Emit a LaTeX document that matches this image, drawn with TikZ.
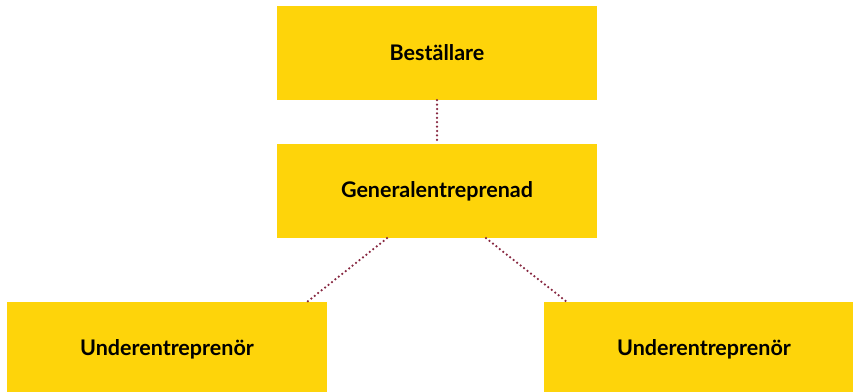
\documentclass[tikz,border=0pt]{standalone}
\usepackage{fontspec}
\setmainfont{Lato}
\definecolor{boxyellow}{RGB}{254,212,10}
\definecolor{dotred}{RGB}{135,40,65}

\begin{document}
\begin{tikzpicture}[
    x=1pt,
    y=-1pt,
    rolebox/.style={
        rectangle,
        fill=boxyellow,
        minimum width=320pt,
        minimum height=94pt,
        inner sep=0pt,
        font=\fontsize{21.5}{24}\selectfont\bfseries
    },
    dotline/.style={
        draw=dotred,
        line width=2.5pt,
        line cap=round,
        dash pattern=on 0pt off 4.4pt
    }
]

\useasboundingbox (0,0) rectangle (853,391);

% -------------------------------------------------
% Boxes
% -------------------------------------------------

\node[rolebox] (client) at (437,53) {Beställare};
\node[rolebox] (general) at (437,191) {Generalentreprenad};

\node[rolebox] (subleft) at (167,349) {Underentreprenör};
\node[rolebox] (subright) at (704,349) {Underentreprenör};

% -------------------------------------------------
% Dotted connectors
% -------------------------------------------------

\draw[dotline] (client.south) -- (general.north);
\draw[dotline] ([xshift=-50pt]general.south) -- ([xshift=-20pt]subleft.north east);
\draw[dotline] ([xshift=49pt]general.south) -- ([xshift=23pt]subright.north west);

\end{tikzpicture}
\end{document}
